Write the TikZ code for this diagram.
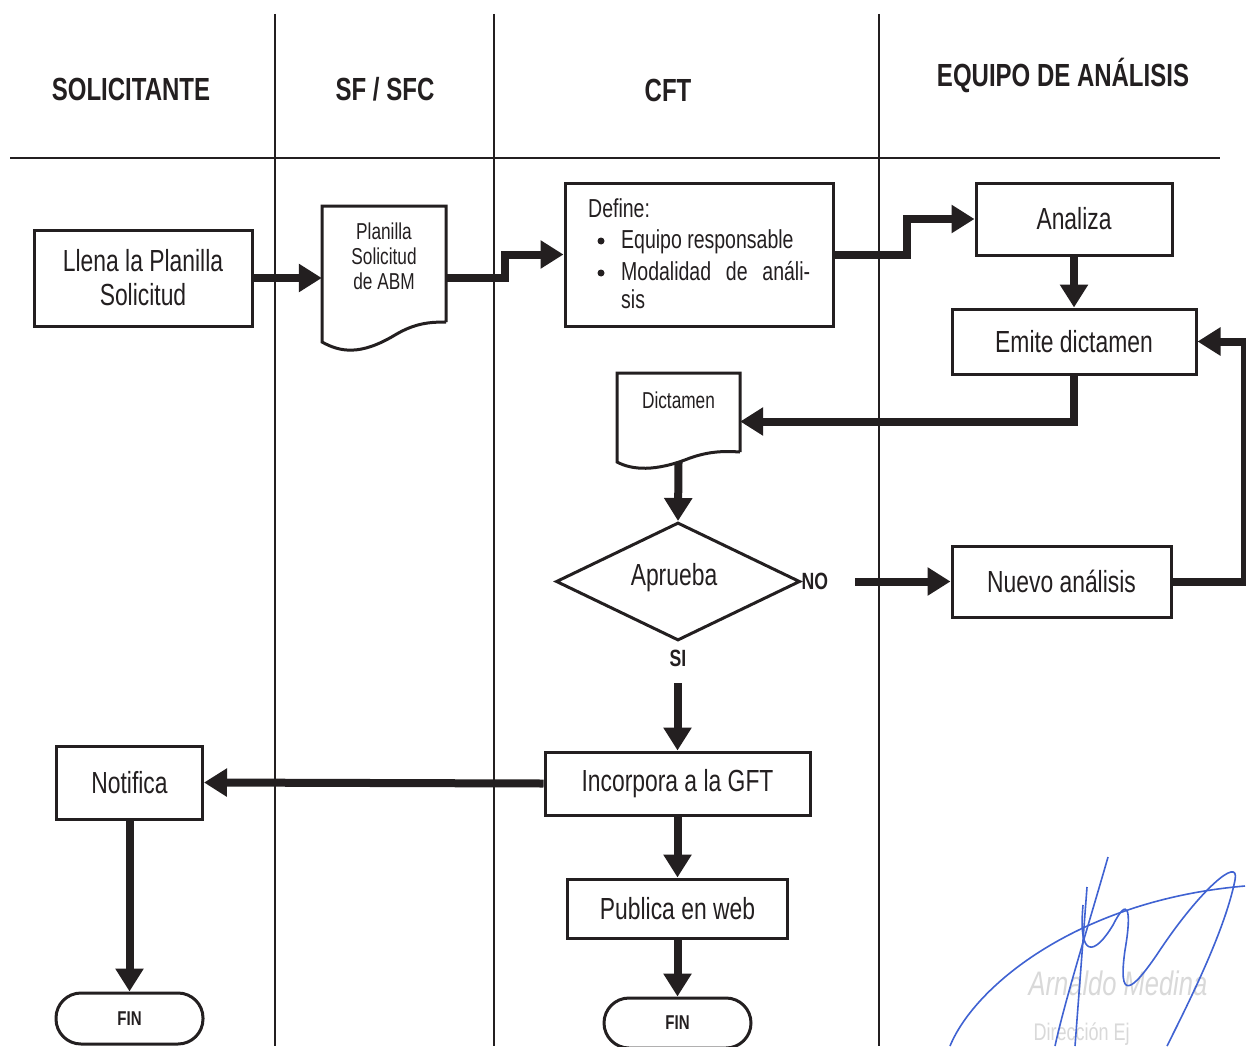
\documentclass[tikz,border=0pt]{standalone}
\usepackage{fontspec}
\setmainfont[FakeStretch=0.75]{Liberation Sans}
\usetikzlibrary{arrows.meta,shapes.geometric}
\definecolor{ink}{HTML}{231F20}
\definecolor{sig}{HTML}{3F62D2}
\begin{document}
\begin{tikzpicture}[x=1pt,y=-1pt,
  box/.style={draw=ink,line width=3pt,inner sep=0pt,font=\fontsize{30.5}{34}\selectfont,text=ink,align=center},
  flow/.style={draw=ink,line width=8pt,-{Triangle[length=23pt,width=27pt]}},
  lane/.style={draw=ink,line width=1.4pt},
  head/.style={font=\bfseries\fontsize{32}{34}\selectfont,text=ink},
  lbl/.style={font=\bfseries\fontsize{23.5}{25}\selectfont,text=ink,inner sep=0pt},
  term/.style={draw=ink,line width=3pt,rounded corners=25pt,inner sep=0pt,font=\bfseries\fontsize{20}{22}\selectfont,text=ink},
  doctext/.style={font=\fontsize{23}{25}\selectfont,text=ink,align=center},
  deftext/.style={font=\fontsize{26}{30}\selectfont,text=ink,inner sep=0pt},
  dot/.style={circle,fill=ink,inner sep=0pt,minimum size=7pt},
  docline/.style={draw=ink,line width=3pt,line join=miter}
]
\useasboundingbox (0,0) rectangle (1246,1046);
\fill[white] (0,0) rectangle (1246,1046);

% lanes and header
\draw[lane] (275,14) -- (275,1046);
\draw[lane] (494,14) -- (494,1046);
\draw[lane] (879,14) -- (879,1046);
\draw[ink,line width=2.2pt] (10,158) -- (1220,158);
\node[head] (h1) at (131,89) {SOLICITANTE};
\node[head] (h2) at (385,89) {SF / SFC};
\node[head] (h3) at (668,90) {CFT};
\node[head] (h4) at (1063,75) {EQUIPO DE ANÁLISIS};

% nodes
\node[box,minimum width=218pt,minimum height=96pt] (llena) at (143,278) {Llena la Planilla\\Solicitud};

\node[minimum width=124pt,minimum height=144pt,inner sep=0pt] (pl) at (384,278) {};
\draw[docline] (446,322) -- (446,206) -- (322,206) -- (322,342)
  .. controls (340,352) and (360,356) .. (395,335)
  .. controls (415,323) and (430,322) .. (446,322);
\node[doctext,anchor=north] (pltext) at (384,219) {Planilla\\Solicitud\\de ABM};

\node[box,minimum width=268pt,minimum height=143pt] (def) at (699,254.5) {};
\node[deftext,anchor=base west] (d1) at (588,217) {Define:};
\node[dot] (b1) at (601,241) {};
\node[deftext,anchor=base west] (d2) at (621,248) {Equipo responsable};
\node[dot] (b2) at (601,273) {};
\node[deftext,anchor=base west] (d3) at (621,280) {\makebox[189pt][s]{Modalidad de análi-}};
\node[deftext,anchor=base west] (d4) at (621,308) {sis};

\node[box,minimum width=196pt,minimum height=72pt] (an) at (1074,219) {Analiza};
\node[box,minimum width=244pt,minimum height=65pt] (em) at (1074,341.5) {Emite dictamen};

\node[minimum width=123pt,minimum height=97pt,inner sep=0pt] (dict) at (678.5,421.5) {};
\draw[docline] (740,452) -- (740,373) -- (617,373) -- (617,462)
  .. controls (632,470) and (655,472) .. (690,458)
  .. controls (710,451) and (725,451) .. (740,452);
\node[doctext,anchor=north] (dicttext) at (678.5,388) {Dictamen};

\node[draw=ink,line width=3pt,shape=diamond,minimum width=244pt,minimum height=118pt,inner sep=0pt] (ap) at (678,581.5) {};
\node[font=\fontsize{30.5}{32}\selectfont,text=ink] (aptext) at (674,578) {Aprueba};
\node[lbl,anchor=west] (no) at (ap.east) {NO};
\node[lbl,anchor=north] (si) at ([yshift=-8pt]ap.south) {SI};
\coordinate (nostart) at (855,581.5);
\coordinate (sistart) at (677.5,683);

\node[box,minimum width=219pt,minimum height=71pt] (nu) at (1061.5,581.5) {Nuevo análisis};
\node[box,minimum width=265pt,minimum height=63pt] (inc) at (677.5,783.5) {Incorpora a la GFT};
\node[box,minimum width=146pt,minimum height=73pt] (nt) at (129.5,782.5) {Notifica};
\node[box,minimum width=220pt,minimum height=59pt] (pub) at (677.5,908.5) {Publica en web};
\node[term,minimum width=147pt,minimum height=51pt] (fin1) at (129.5,1018.5) {FIN};
\node[term,minimum width=147pt,minimum height=50pt] (fin2) at (677.5,1023) {FIN};

% connectors
\draw[flow] (llena.east) -- (pl.west);
\draw[flow] (pl.east) -- ++(59,0) |- (def.west);
\draw[flow] (def.east) -- ++(72,0) |- (an.west);
\draw[flow] (an.south) -- (em.north);
\draw[flow] (em.south) |- (dict.east);
\draw[flow] ([yshift=8pt]dict.south) -- (ap.north);
\draw[flow] (nostart) -- (nu.west);
\draw[flow] (nu.east) -- ++(72,0) |- (em.east);
\draw[flow] (sistart) -- (inc.north);
\draw[flow] (inc.west) -- (nt.east);
\draw[flow] (nt.south) -- (fin1.north);
\draw[flow] (inc.south) -- (pub.north);
\draw[flow] (pub.south) -- (fin2.north);

% signature
\node[font=\itshape\fontsize{34}{36}\selectfont,text=gray!30] (sg1) at (1118,983) {Arnaldo Medina};
\node[font=\fontsize{24}{26}\selectfont,text=gray!30,anchor=west] (sg2) at (1030,1034) {Dirección Ej};
\begin{scope}[sig,line width=1.6pt]
\draw (950,1046) .. controls (975,985) and (1080,900) .. (1245,886);
\draw (1108,857) .. controls (1090,920) and (1065,1000) .. (1055,1046);
\draw (1087,887) -- (1075,1046);
\draw (1083,905) .. controls (1078,960) and (1095,955) .. (1113,925)
  .. controls (1128,895) and (1132,910) .. (1125,950)
  .. controls (1118,1000) and (1130,995) .. (1160,950)
  .. controls (1200,890) and (1240,855) .. (1235,880)
  .. controls (1225,930) and (1190,1000) .. (1167,1046);
\end{scope}
\end{tikzpicture}
\end{document}
